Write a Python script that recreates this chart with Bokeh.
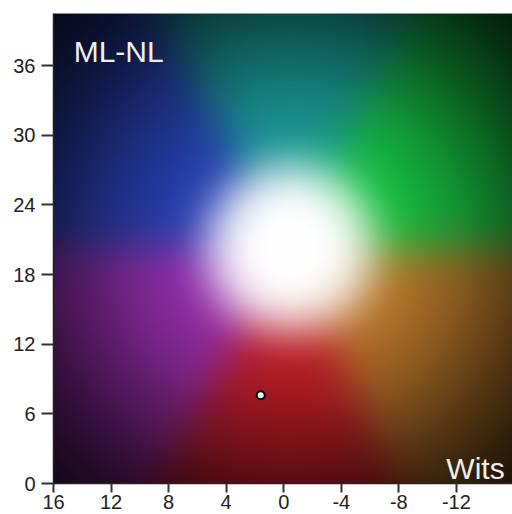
import numpy as np
from bokeh.plotting import figure
from bokeh.models import Range1d, FixedTicker
from bokeh.core.properties import value
from bokeh.embed import file_html
from bokeh.resources import INLINE

# ---- data ----
x_ticks = [16, 12, 8, 4, 0, -4, -8, -12]
y_ticks = [0, 6, 12, 18, 24, 30, 36]
x_limits = [16, -15.9]
y_limits = [0, 40.5]
center_x = [-0.45]
center_y = [20.3]
# hue sectors, counterclockwise on screen, starting at the right-hand horizontal boundary
sector_names = ["green", "cyan", "blue", "magenta", "red", "orange"]
sector_start_deg = [0, 62, 119, 180, 240, 295]
sector_r = [22, 26, 40, 150, 190, 185]
sector_g = [195, 155, 66, 46, 28, 120]
sector_b = [68, 150, 182, 172, 38, 42]
marker_x = [1.6]
marker_y = [7.6]
panel_label = ["ML-NL"]
corner_label = ["Wits"]

# ---- figure geometry ----
W, H = 512, 514
BL, BR, BT, BB = 53, 0, 13, 31
FW, FH = W - BL - BR, H - BT - BB

# ---- build the colour field ----
x_lo, x_hi = min(x_limits), max(x_limits)
y_lo, y_hi = min(y_limits), max(y_limits)
nx, ny = FW, FH
xs = x_lo + (np.arange(nx) + 0.5) * (x_hi - x_lo) / nx
ys = y_lo + (np.arange(ny) + 0.5) * (y_hi - y_lo) / ny
X, Y = np.meshgrid(xs, ys)
kx = FW / (x_hi - x_lo)
ky = FH / (y_hi - y_lo)
u = (center_x[0] - X) * kx * (1 if x_limits[0] > x_limits[1] else -1)
v = (Y - center_y[0]) * ky
r = np.hypot(u, v)
theta = np.degrees(np.arctan2(v, u)) % 360.0

def wrap(d):
    return (d + 180.0) % 360.0 - 180.0

def sig(t):
    return 1.0 / (1.0 + np.exp(-t))

tau = np.degrees(13.0 / np.maximum(r, 45.0))
n = len(sector_start_deg)
weights = []
for k in range(n):
    a = sector_start_deg[k]
    b = sector_start_deg[(k + 1) % n]
    d1 = wrap(theta - a)
    d2 = wrap(b - theta)
    weights.append(sig(d1 / tau) * sig(d2 / tau))
wsum = sum(weights) + 1e-9
hue = np.zeros(X.shape + (3,))
for k in range(n):
    col = np.array([sector_r[k], sector_g[k], sector_b[k]], dtype=float)
    hue += (weights[k] / wsum)[..., None] * col

bright = np.exp(-((np.maximum(r - 70.0, 0.0)) / 190.0) ** 2)
white = np.exp(-(r / 86.0) ** 4)
rgb = white[..., None] * 255.0 + (1 - white[..., None]) * hue * bright[..., None]
rgb = np.clip(rgb, 0, 255).astype(np.uint8)

img = np.empty((ny, nx), dtype=np.uint32)
view = img.view(dtype=np.uint8).reshape((ny, nx, 4))
view[..., 0] = rgb[..., 0]
view[..., 1] = rgb[..., 1]
view[..., 2] = rgb[..., 2]
view[..., 3] = 255

# ---- plot ----
p = figure(width=W, height=H, x_range=Range1d(*x_limits), y_range=Range1d(*y_limits),
           output_backend="svg", toolbar_location=None,
           min_border_left=BL, min_border_right=BR, min_border_top=BT, min_border_bottom=BB)
p.grid.visible = False
p.background_fill_color = "black"
p.border_fill_color = "white"
p.outline_line_color = "#bbbbbb"

p.image_rgba(image=[img], x=x_lo, y=y_lo, dw=x_hi - x_lo, dh=y_hi - y_lo)

p.scatter(marker_x, marker_y, size=8, fill_color="white", line_color="black", line_width=2)

p.text(x=[14.6], y=[37.2], text=panel_label, text_color="#eeeeee",
       text_font=value("Liberation Sans"), text_font_size="30px", text_baseline="alphabetic")
p.text(x=[-11.3], y=[1.3], text=corner_label, text_color="#eeeeee",
       text_font=value("Liberation Sans"), text_font_size="30px", text_baseline="alphabetic")

p.xaxis.ticker = FixedTicker(ticks=x_ticks)
p.yaxis.ticker = FixedTicker(ticks=y_ticks)
p.xaxis.major_label_overrides = {t: str(t) for t in x_ticks}
p.yaxis.major_label_overrides = {t: str(t) for t in y_ticks}
for ax in (p.xaxis[0], p.yaxis[0]):
    ax.major_label_text_font = "Liberation Sans"
    ax.major_label_text_font_size = "20px"
    ax.major_label_text_color = "#222222"
    ax.axis_line_color = "#222222"
    ax.axis_line_width = 1.5
    ax.major_tick_line_color = "#333333"
    ax.major_tick_line_width = 2
    ax.major_tick_in = 0
    ax.minor_tick_line_color = None
p.xaxis.major_tick_out = 9
p.xaxis.major_label_standoff = 2
p.yaxis.major_tick_out = 12
p.yaxis.major_label_standoff = 6

open("out.html", "w").write(file_html(p, INLINE))
